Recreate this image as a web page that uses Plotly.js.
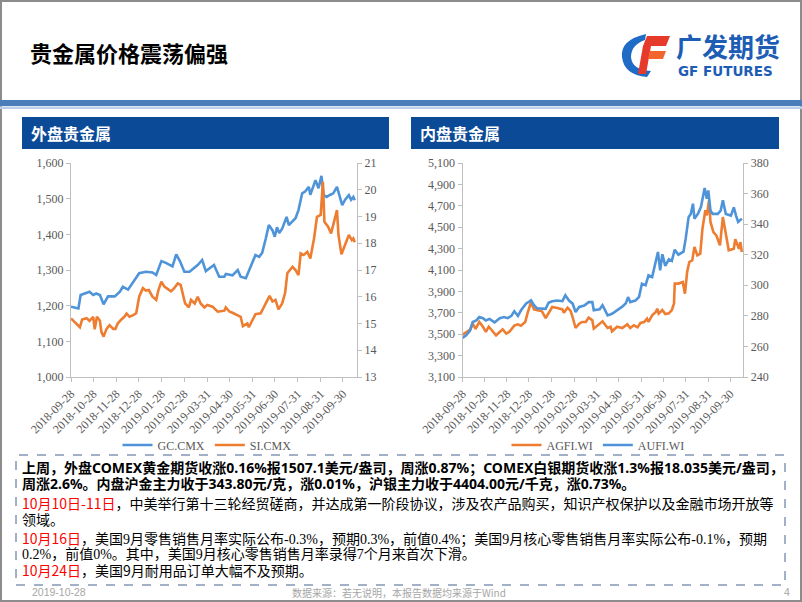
<!DOCTYPE html>
<html><head><meta charset="utf-8">
<script src="https://cdn.plot.ly/plotly-3.0.1.min.js"></script>
<style>html,body{margin:0;padding:0;background:#fff;}#chart{width:802px;height:602px;}</style>
</head><body><div id="chart"></div>
<script>
// ---------- data ----------
const tickDates = ['2018-09-28','2018-10-28','2018-11-28','2018-12-28','2019-01-28','2019-02-28','2019-03-31','2019-04-30','2019-05-31','2019-06-30','2019-07-31','2019-08-31','2019-09-30'];

const gcDates = ['2018-09-28','2018-10-08','2018-10-11','2018-10-23','2018-10-28','2018-11-01','2018-11-06','2018-11-11','2018-11-17','2018-11-26','2018-12-03','2018-12-07','2018-12-14','2018-12-18','2018-12-25','2018-12-29','2019-01-07','2019-01-16','2019-01-21','2019-01-28','2019-02-03','2019-02-12','2019-02-17','2019-02-22','2019-02-28','2019-03-07','2019-03-11','2019-03-18','2019-03-24','2019-03-29','2019-04-09','2019-04-12','2019-04-16','2019-04-23','2019-04-25','2019-05-04','2019-05-11','2019-05-15','2019-05-22','2019-05-26','2019-05-31','2019-06-04','2019-06-09','2019-06-13','2019-06-18','2019-06-22','2019-06-27','2019-06-30','2019-07-03','2019-07-06','2019-07-10','2019-07-16','2019-07-19','2019-07-28','2019-08-01','2019-08-06','2019-08-10','2019-08-15','2019-08-17','2019-08-22','2019-08-24','2019-08-28','2019-09-01','2019-09-04','2019-09-08','2019-09-13','2019-09-17','2019-09-22','2019-09-24','2019-09-29','2019-10-03','2019-10-08','2019-10-11','2019-10-14','2019-10-16'];
const gcValues = [1197,1192,1230,1239,1230,1234,1230,1204,1226,1226,1239,1253,1245,1258,1277,1291,1295,1293,1286,1325,1320,1310,1344,1325,1295,1295,1302,1314,1328,1297,1314,1300,1281,1281,1289,1285,1300,1281,1277,1297,1323,1342,1337,1348,1389,1426,1411,1393,1420,1404,1416,1449,1426,1445,1468,1515,1520,1533,1511,1543,1552,1529,1564,1510,1505,1511,1515,1533,1520,1482,1497,1510,1497,1505,1496];

const siDates = ['2018-09-28','2018-10-03','2018-10-10','2018-10-13','2018-10-19','2018-10-23','2018-10-28','2018-10-30','2018-11-02','2018-11-06','2018-11-08','2018-11-11','2018-11-15','2018-11-19','2018-11-24','2018-11-27','2018-11-30','2018-12-05','2018-12-09','2018-12-12','2018-12-16','2018-12-21','2018-12-25','2018-12-29','2019-01-03','2019-01-07','2019-01-11','2019-01-16','2019-01-21','2019-01-24','2019-01-28','2019-02-01','2019-02-05','2019-02-10','2019-02-14','2019-02-19','2019-02-23','2019-02-26','2019-03-01','2019-03-06','2019-03-09','2019-03-14','2019-03-18','2019-03-22','2019-03-27','2019-03-31','2019-04-07','2019-04-14','2019-04-23','2019-04-25','2019-04-30','2019-05-04','2019-05-11','2019-05-15','2019-05-18','2019-05-24','2019-05-26','2019-05-31','2019-06-04','2019-06-11','2019-06-18','2019-06-23','2019-06-27','2019-07-01','2019-07-05','2019-07-10','2019-07-14','2019-07-17','2019-07-24','2019-07-28','2019-08-01','2019-08-04','2019-08-08','2019-08-13','2019-08-17','2019-08-22','2019-08-26','2019-08-31','2019-09-03','2019-09-05','2019-09-10','2019-09-14','2019-09-22','2019-09-24','2019-09-28','2019-10-03','2019-10-08','2019-10-12','2019-10-14','2019-10-16'];
const siValues = [15.19,15.06,14.86,15.15,15.2,15.1,15.25,14.78,15.25,15.1,14.69,14.51,14.8,14.94,14.8,14.8,15.0,15.15,15.25,15.37,15.25,15.31,15.38,16.0,16.32,16.23,16.25,16.0,15.88,16.25,16.56,16.38,16.31,16.2,16.31,16.5,16.44,16.13,15.75,15.6,15.88,15.75,16.0,15.75,15.6,15.69,15.63,15.44,15.48,15.6,15.44,15.4,15.32,15.25,14.9,15.0,14.86,15.13,15.35,15.38,15.75,16.03,15.82,15.88,15.53,15.75,16.15,16.88,17.12,17.0,16.81,17.62,17.56,17.68,17.43,18.18,18.99,19.06,20.3,18.8,18.62,18.37,19.24,18.3,17.59,17.94,18.31,18.12,18.18,18.04];

const agDates = ['2018-09-28','2018-10-03','2018-10-09','2018-10-12','2018-10-16','2018-10-21','2018-10-26','2018-10-30','2018-11-03','2018-11-06','2018-11-13','2018-11-18','2018-11-22','2018-11-27','2018-12-01','2018-12-08','2018-12-13','2018-12-17','2018-12-23','2018-12-26','2018-12-31','2019-01-04','2019-01-08','2019-01-15','2019-01-20','2019-01-24','2019-01-29','2019-02-05','2019-02-12','2019-02-14','2019-02-19','2019-02-23','2019-02-26','2019-03-02','2019-03-07','2019-03-11','2019-03-16','2019-03-20','2019-03-25','2019-03-27','2019-04-01','2019-04-08','2019-04-15','2019-04-19','2019-04-21','2019-04-28','2019-05-05','2019-05-12','2019-05-16','2019-05-21','2019-05-26','2019-05-30','2019-06-04','2019-06-08','2019-06-10','2019-06-15','2019-06-20','2019-06-22','2019-06-24','2019-06-29','2019-07-03','2019-07-08','2019-07-12','2019-07-15','2019-07-16','2019-07-21','2019-07-27','2019-07-30','2019-08-02','2019-08-05','2019-08-09','2019-08-12','2019-08-16','2019-08-20','2019-08-23','2019-08-27','2019-08-29','2019-09-01','2019-09-03','2019-09-07','2019-09-11','2019-09-16','2019-09-20','2019-09-24','2019-09-28','2019-10-05','2019-10-07','2019-10-12','2019-10-14','2019-10-16'];
const agValues = [3496,3520,3546,3599,3550,3614,3570,3521,3570,3546,3490,3521,3546,3505,3521,3580,3592,3580,3614,3692,3801,3732,3723,3714,3651,3692,3754,3745,3732,3701,3748,3720,3660,3558,3598,3614,3614,3655,3630,3552,3580,3620,3558,3570,3527,3570,3558,3592,3558,3583,3564,3605,3614,3645,3614,3677,3707,3738,3692,3726,3689,3695,3726,3786,3973,3973,3988,3879,4081,4175,4190,4315,4237,4253,4487,4658,4611,4751,4549,4455,4424,4331,4595,4440,4284,4299,4388,4299,4361,4268];

const auDates = ['2018-09-28','2018-10-03','2018-10-08','2018-10-12','2018-10-17','2018-10-21','2018-10-26','2018-10-30','2018-11-04','2018-11-11','2018-11-18','2018-11-24','2018-11-29','2018-12-04','2018-12-08','2018-12-13','2018-12-17','2018-12-24','2018-12-31','2019-01-04','2019-01-08','2019-01-15','2019-01-20','2019-01-24','2019-01-29','2019-02-05','2019-02-12','2019-02-16','2019-02-21','2019-02-26','2019-03-02','2019-03-07','2019-03-14','2019-03-20','2019-03-25','2019-03-27','2019-04-04','2019-04-08','2019-04-15','2019-04-21','2019-04-28','2019-05-05','2019-05-10','2019-05-13','2019-05-16','2019-05-23','2019-05-28','2019-06-01','2019-06-06','2019-06-10','2019-06-15','2019-06-19','2019-06-23','2019-06-26','2019-06-29','2019-07-03','2019-07-08','2019-07-12','2019-07-16','2019-07-21','2019-07-28','2019-07-31','2019-08-04','2019-08-07','2019-08-10','2019-08-12','2019-08-17','2019-08-21','2019-08-26','2019-08-29','2019-08-31','2019-09-03','2019-09-06','2019-09-13','2019-09-17','2019-09-20','2019-09-24','2019-10-01','2019-10-05','2019-10-08','2019-10-11','2019-10-16'];
const auValues = [265.5,267.3,270,276,277,279.2,278.5,277,278,275.7,278.5,279.2,278.5,280,283,280,283.5,288,290.2,287,285,285,284.6,288.6,289.6,290,289.6,293.4,290,288,282.5,285.8,286.8,289,289,283.6,284.3,287,280.3,281.4,283.5,286,288.2,292.3,289,290,292.3,301,300,306.5,305.4,314.2,321.8,309.8,320.3,312.7,317,316,323.3,320,322,330.5,344.6,346.7,353.4,343.6,346.9,351.3,363.6,356.6,362,348.9,346.7,346.7,348.9,355.6,346.7,345.6,351,345.6,341.4,343.6];

const seriesNames = ['GC.CMX','SI.CMX','AGFI.WI','AUFI.WI'];
const panelTitles = ['外盘贵金属','内盘贵金属'];

// ---------- layout helpers ----------
const W = 802, H = 602;
const X = px => px / W;
const Y = py => 1 - py / H;
const BLUE = '#4F94D9', ORANGE = '#ED7D31';
const AX = '#BFBFBF', TXT = '#595959';
const serif = 'Liberation Serif, Times New Roman, serif';
const cjk = 'Noto Sans CJK SC, sans-serif';
const sansBold = 'Noto Sans, Noto Sans CJK SC, sans-serif';

const traces = [
  {x: gcDates, y: gcValues, name: seriesNames[0], type: 'scatter', mode: 'lines', line: {color: BLUE, width: 2.6}, xaxis: 'x', yaxis: 'y', legend: 'legend'},
  {x: siDates, y: siValues, name: seriesNames[1], type: 'scatter', mode: 'lines', line: {color: ORANGE, width: 2.6}, xaxis: 'x', yaxis: 'y2', legend: 'legend'},
  {x: agDates, y: agValues, name: seriesNames[2], type: 'scatter', mode: 'lines', line: {color: ORANGE, width: 2.6}, xaxis: 'x2', yaxis: 'y3', legend: 'legend2'},
  {x: auDates, y: auValues, name: seriesNames[3], type: 'scatter', mode: 'lines', line: {color: BLUE, width: 2.6}, xaxis: 'x2', yaxis: 'y4', legend: 'legend2'}
];

const tickFont = {family: serif, size: 12, color: TXT};
const baseAx = {showline: true, linecolor: AX, linewidth: 1, ticks: 'outside', ticklen: 4, tickcolor: AX, showgrid: false, zeroline: false, tickfont: tickFont, fixedrange: true};
const xAx = (dom, end, anchor) => Object.assign({}, baseAx, {domain: dom, type: 'date', range: ['2018-09-28', end], tickvals: tickDates, ticktext: tickDates, tickangle: -45, anchor: anchor});
const yDom = [Y(377), Y(163)];

const legendBase = {orientation: 'h', xanchor: 'center', yanchor: 'middle', y: Y(445), font: {family: serif, size: 12, color: TXT}, bgcolor: 'rgba(0,0,0,0)', itemwidth: 30, tracegroupgap: 0};

const shapes = [
  {type: 'rect', xref: 'paper', yref: 'paper', x0: X(1), x1: X(801), y0: Y(601), y1: Y(1), line: {color: '#8C8C8C', width: 2}},
  {type: 'rect', xref: 'paper', yref: 'paper', x0: 0, x1: 1, y0: Y(106), y1: Y(100), fillcolor: '#4A7EBB', line: {width: 0}},
  {type: 'rect', xref: 'paper', yref: 'paper', x0: 0, x1: 1, y0: Y(109), y1: Y(106.5), fillcolor: '#BDD0E9', line: {width: 0}},
  {type: 'rect', xref: 'paper', yref: 'paper', x0: X(22), x1: X(389), y0: Y(149), y1: Y(117), fillcolor: '#0B4A97', line: {width: 0}},
  {type: 'rect', xref: 'paper', yref: 'paper', x0: X(411), x1: X(779), y0: Y(149), y1: Y(117), fillcolor: '#0B4A97', line: {width: 0}},
  {type: 'rect', xref: 'paper', yref: 'paper', x0: X(16), x1: X(785), y0: Y(585), y1: Y(455), line: {color: '#44628F', width: 1, dash: 'dash'}}
];

// logo (pixel -> paper)
const P = (x, y) => X(x).toFixed(5) + ',' + Y(y).toFixed(5);
shapes.push({type: 'path', xref: 'paper', yref: 'paper', fillcolor: '#1E6CC6', line: {width: 0},
  path: 'M ' + P(646, 34) + ' Q ' + P(620, 40) + ' ' + P(622, 57) + ' Q ' + P(624, 75) + ' ' + P(647, 77) + ' L ' + P(651, 71) + ' Q ' + P(632, 70) + ' ' + P(631, 57) + ' Q ' + P(631, 45) + ' ' + P(645, 40) + ' Z'});
shapes.push({type: 'path', xref: 'paper', yref: 'paper', fillcolor: '#E63B2A', line: {width: 0},
  path: 'M ' + P(647, 36) + ' L ' + P(670, 36) + ' L ' + P(666, 46) + ' L ' + P(643, 46) + ' Z'});
shapes.push({type: 'path', xref: 'paper', yref: 'paper', fillcolor: '#E63B2A', line: {width: 0},
  path: 'M ' + P(643, 46) + ' L ' + P(651, 46) + ' L ' + P(646, 74) + ' L ' + P(638, 74) + ' Z'});
shapes.push({type: 'path', xref: 'paper', yref: 'paper', fillcolor: '#F2662E', line: {width: 0},
  path: 'M ' + P(650, 51) + ' L ' + P(666, 51) + ' L ' + P(663, 59) + ' L ' + P(648, 59) + ' Z'});

const ann = (x, y, text, font, extra) => Object.assign({xref: 'paper', yref: 'paper', x: X(x), y: Y(y), text: text, showarrow: false, xanchor: 'left', yanchor: 'middle', font: font, align: 'left'}, extra || {});
const red = s => '<span style="color:#FF0000">' + s + '</span>';
const sansSpan = s => '<span style="font-family:Noto Sans CJK SC">' + s + '</span>';

const annotations = [
  ann(28, 52, '贵金属价格震荡偏强', {family: cjk, size: 22, color: '#000', weight: 'bold'}),
  ann(674, 46, '广发期货', {family: cjk, size: 26, color: '#1D5DB5', weight: 'bold'}),
  ann(676, 71, 'GF FUTURES', {family: 'DejaVu Sans, sans-serif', size: 13.5, color: '#1D5DB5', weight: 'bold'}),
  ann(29, 133, panelTitles[0], {family: cjk, size: 16, color: '#FFFFFF', weight: 'bold'}),
  ann(418, 133, panelTitles[1], {family: cjk, size: 16, color: '#FFFFFF', weight: 'bold'}),
  ann(20, 467, '上周，外盘COMEX黄金期货收涨0.16%报1507.1美元/盎司，周涨0.87%；COMEX白银期货收涨1.3%报18.035美元/盎司，', {family: sansBold, size: 14, color: '#000', weight: 'bold'}),
  ann(20, 483, '周涨2.6%。内盘沪金主力收于343.80元/克，涨0.01%，沪银主力收于4404.00元/千克，涨0.73%。', {family: sansBold, size: 14, color: '#000', weight: 'bold'}),
  ann(20, 503, red('10月10日-11日') + '，中美举行第十三轮经贸磋商，并达成第一阶段协议，涉及农产品购买，知识产权保护以及金融市场开放等', {family: cjk, size: 14, color: '#000'}),
  ann(20, 519, '领域。', {family: cjk, size: 14, color: '#000'}),
  ann(20, 538, sansSpan(red('10月16日')) + '，美国9月零售销售月率实际公布-0.3%，预期0.3%，前值0.4%；美国9月核心零售销售月率实际公布-0.1%，预期', {family: 'Liberation Serif, Noto Sans CJK SC', size: 14, color: '#000'}),
  ann(20, 554, '0.2%，前值0%。其中，美国9月核心零售销售月率录得7个月来首次下滑。', {family: 'Liberation Serif, Noto Sans CJK SC', size: 14, color: '#000'}),
  ann(20, 570, red('10月24日') + '，美国9月耐用品订单大幅不及预期。', {family: cjk, size: 14, color: '#000'}),
  ann(30, 592, '2019-10-28', {family: 'Liberation Sans, sans-serif', size: 10.5, color: '#A6A6A6'}),
  ann(399, 592, '数据来源：若无说明，本报告数据均来源于Wind', {family: cjk, size: 10, color: '#A6A6A6'}, {xanchor: 'center'}),
  ann(792, 592, '4', {family: 'Liberation Sans, sans-serif', size: 10.5, color: '#A6A6A6'}, {xanchor: 'right'})
];

const layout = {
  width: W, height: H,
  margin: {l: 0, r: 0, t: 0, b: 0},
  paper_bgcolor: '#FFFFFF', plot_bgcolor: '#FFFFFF',
  showlegend: true,
  xaxis: xAx([X(71), X(357)], '2019-10-19', 'y'),
  yaxis: Object.assign({}, baseAx, {domain: yDom, range: [1000, 1600], tick0: 1000, dtick: 100, tickformat: ',', anchor: 'x'}),
  yaxis2: Object.assign({}, baseAx, {overlaying: 'y', side: 'right', anchor: 'x', range: [13, 21], tick0: 13, dtick: 1}),
  xaxis2: xAx([X(462.5), X(743.3)], '2019-10-18', 'y3'),
  yaxis3: Object.assign({}, baseAx, {domain: yDom, range: [3100, 5100], tick0: 3100, dtick: 200, tickformat: ',', anchor: 'x2'}),
  yaxis4: Object.assign({}, baseAx, {overlaying: 'y3', side: 'right', anchor: 'x2', range: [240, 380], tick0: 240, dtick: 20}),
  legend: Object.assign({}, legendBase, {x: X(207)}),
  legend2: Object.assign({}, legendBase, {x: X(598)}),
  shapes: shapes,
  annotations: annotations
};

Plotly.newPlot('chart', traces, layout, {displayModeBar: false, staticPlot: true});
</script>
</body></html>
